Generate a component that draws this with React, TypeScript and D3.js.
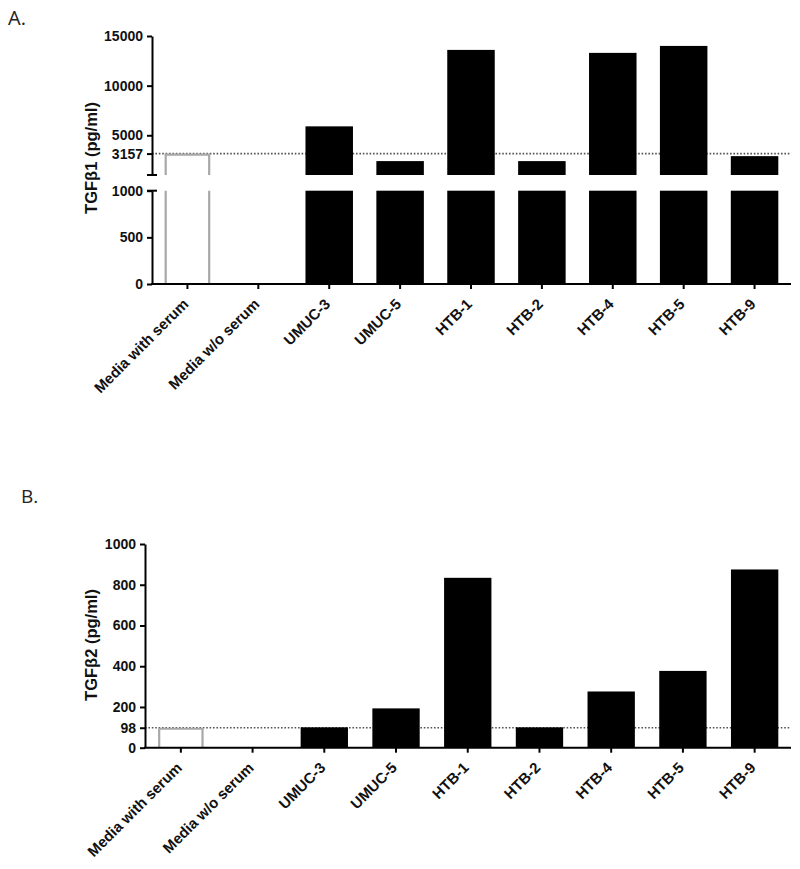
import { useRef, useEffect } from "react";
import * as d3 from "d3";

const categories = [
  "Media with serum",
  "Media w/o serum",
  "UMUC-3",
  "UMUC-5",
  "HTB-1",
  "HTB-2",
  "HTB-4",
  "HTB-5",
  "HTB-9",
];

// TGFb1 (pg/ml)
const tgfb1 = [3157, 0, 5900, 2400, 13600, 2400, 13300, 14000, 2900];
// TGFb2 (pg/ml)
const tgfb2 = [98, 0, 100, 193, 834, 100, 276, 377, 875];

const b1UpperTicks = [3157, 5000, 10000, 15000];
const b1LowerTicks = [0, 500, 1000];
const b2Ticks = [0, 98, 200, 400, 600, 800, 1000];

const FONT = "'Liberation Sans', Arial, sans-serif";
const GREY = "#a8a8a8";

export default function App() {
  const ref = useRef<SVGSVGElement | null>(null);

  useEffect(() => {
    const svg = d3.select(ref.current!);
    svg.selectAll("*").remove();

    const styleAxis = (g: any) => {
      g.selectAll(".domain").attr("stroke", "#000").attr("stroke-width", 2);
      g.selectAll(".tick line").attr("stroke", "#000").attr("stroke-width", 2);
      g.selectAll(".tick text")
        .attr("fill", "#111")
        .style("font-family", FONT)
        .style("font-weight", "bold")
        .style("font-size", "14px");
    };

    const xLabels = (g: any) => {
      g.selectAll(".tick text").remove();
      g.selectAll(".tick")
        .append("text")
        .attr("transform", `translate(2,21) rotate(-45)`)
        .attr("text-anchor", "end")
        .attr("fill", "#111")
        .style("font-family", FONT)
        .style("font-weight", "bold")
        .style("font-size", "15px")
        .text((d: string) => d);
    };

    // ---------- panel A ----------
    const a = svg.append("g");
    const xA = d3.scaleBand().domain(categories).range([152, 790]).paddingInner(0.33).paddingOuter(0.165);
    const yUp = d3.scaleLinear().domain([1000, 15000]).range([175, 36]);
    const yLo = d3.scaleLinear().domain([0, 1000]).range([284, 190.7]);

    //reference line
    a.append("line")
      .attr("x1", 152).attr("x2", 790)
      .attr("y1", yUp(3157)).attr("y2", yUp(3157))
      .attr("stroke", "#555").attr("stroke-width", 1.6)
      .attr("stroke-dasharray", "1.6,1.8");

    const dataA = categories.map((c, i) => ({ c, v: tgfb1[i] }));
    dataA.forEach((d, i) => {
      const x0 = xA(d.c)!;
      const w = xA.bandwidth();
      if (i === 0) {
        const p = d3.path();
        p.moveTo(x0 + 2, yLo(0));
        p.lineTo(x0 + 2, yLo(1000));
        p.moveTo(x0 + w - 2, yLo(0));
        p.lineTo(x0 + w - 2, yLo(1000));
        p.moveTo(x0 + 2, yUp(1000));
        p.lineTo(x0 + 2, yUp(d.v) + 1);
        p.lineTo(x0 + w - 2, yUp(d.v) + 1);
        p.lineTo(x0 + w - 2, yUp(1000));
        a.append("path").attr("d", p.toString()).attr("fill", "none")
          .attr("stroke", GREY).attr("stroke-width", 2.2);
        return;
      }
      if (d.v <= 0) return;
      a.append("rect").attr("x", x0).attr("width", w)
        .attr("y", yLo(Math.min(d.v, 1000))).attr("height", yLo(0) - yLo(Math.min(d.v, 1000)))
        .attr("fill", "#000");
      if (d.v > 1000) {
        a.append("rect").attr("x", x0).attr("width", w)
          .attr("y", yUp(d.v)).attr("height", yUp(1000) - yUp(d.v))
          .attr("fill", "#000");
      }
    });

    const axUp = a.append("g").attr("transform", "translate(152,0)")
      .call(d3.axisLeft(yUp).tickValues(b1UpperTicks).tickFormat(d3.format("d")).tickSize(5).tickPadding(4).tickSizeOuter(0) as any);
    styleAxis(axUp);
    const axLo = a.append("g").attr("transform", "translate(152,0)")
      .call(d3.axisLeft(yLo).tickValues(b1LowerTicks).tickFormat(d3.format("d")).tickSize(5).tickPadding(4).tickSizeOuter(0) as any);
    styleAxis(axLo);
    // break caps
    [yUp(1000), yLo(1000)].forEach((y) => {
      a.append("line").attr("x1", 147).attr("x2", 157).attr("y1", y).attr("y2", y)
        .attr("stroke", "#000").attr("stroke-width", 2);
    });

    const axXA = a.append("g").attr("transform", `translate(0,${yLo(0)})`)
      .call(d3.axisBottom(xA).tickSize(5).tickSizeOuter(0) as any);
    styleAxis(axXA);
    axXA.select(".domain").attr("d", `M151,0H791`);
    xLabels(axXA);

    a.append("text")
      .attr("transform", `translate(97,158) rotate(-90)`)
      .attr("text-anchor", "middle")
      .attr("fill", "#111")
      .style("font-family", FONT).style("font-weight", "bold").style("font-size", "16.5px")
      .text("TGFβ1 (pg/ml)");

    svg.append("text").attr("x", 8).attr("y", 25)
      .style("font-family", "'Open Sans', sans-serif").style("font-size", "20px").attr("fill", "#222")
      .text("A.");

    // ---------- panel B ----------
    const b = svg.append("g");
    const xB = d3.scaleBand().domain(categories).range([145, 790.5]).paddingInner(0.34).paddingOuter(0.17);
    const yB = d3.scaleLinear().domain([0, 1000]).range([747.7, 544]);

    b.append("line")
      .attr("x1", 145).attr("x2", 790)
      .attr("y1", yB(98)).attr("y2", yB(98))
      .attr("stroke", "#555").attr("stroke-width", 1.6)
      .attr("stroke-dasharray", "1.6,1.8");

    categories.forEach((c, i) => {
      const v = tgfb2[i];
      const x0 = xB(c)!;
      const w = xB.bandwidth();
      if (i === 0) {
        const p = d3.path();
        p.moveTo(x0 + 2, yB(0));
        p.lineTo(x0 + 2, yB(v) + 1);
        p.lineTo(x0 + w - 2, yB(v) + 1);
        p.lineTo(x0 + w - 2, yB(0));
        b.append("path").attr("d", p.toString()).attr("fill", "none")
          .attr("stroke", GREY).attr("stroke-width", 2.2);
        return;
      }
      if (v <= 0) return;
      b.append("rect").attr("x", x0).attr("width", w)
        .attr("y", yB(v)).attr("height", yB(0) - yB(v)).attr("fill", "#000");
    });

    const axB = b.append("g").attr("transform", "translate(145,0)")
      .call(d3.axisLeft(yB).tickValues(b2Ticks).tickFormat(d3.format("d")).tickSize(5).tickPadding(4).tickSizeOuter(0) as any);
    styleAxis(axB);

    const axXB = b.append("g").attr("transform", `translate(0,${yB(0)})`)
      .call(d3.axisBottom(xB).tickSize(5).tickSizeOuter(0) as any);
    styleAxis(axXB);
    axXB.select(".domain").attr("d", `M144,0H791`);
    xLabels(axXB);

    b.append("text")
      .attr("transform", `translate(97,645) rotate(-90)`)
      .attr("text-anchor", "middle")
      .attr("fill", "#111")
      .style("font-family", FONT).style("font-weight", "bold").style("font-size", "16.5px")
      .text("TGFβ2 (pg/ml)");

    svg.append("text").attr("x", 21).attr("y", 503)
      .style("font-family", "'Open Sans', sans-serif").style("font-size", "19px").attr("fill", "#222")
      .text("B.");
  }, []);

  return (
    <svg
      ref={ref}
      width={800}
      height={869}
      style={{ position: "absolute", left: 0, top: 0, background: "#fff" }}
    ></svg>
  );
}
